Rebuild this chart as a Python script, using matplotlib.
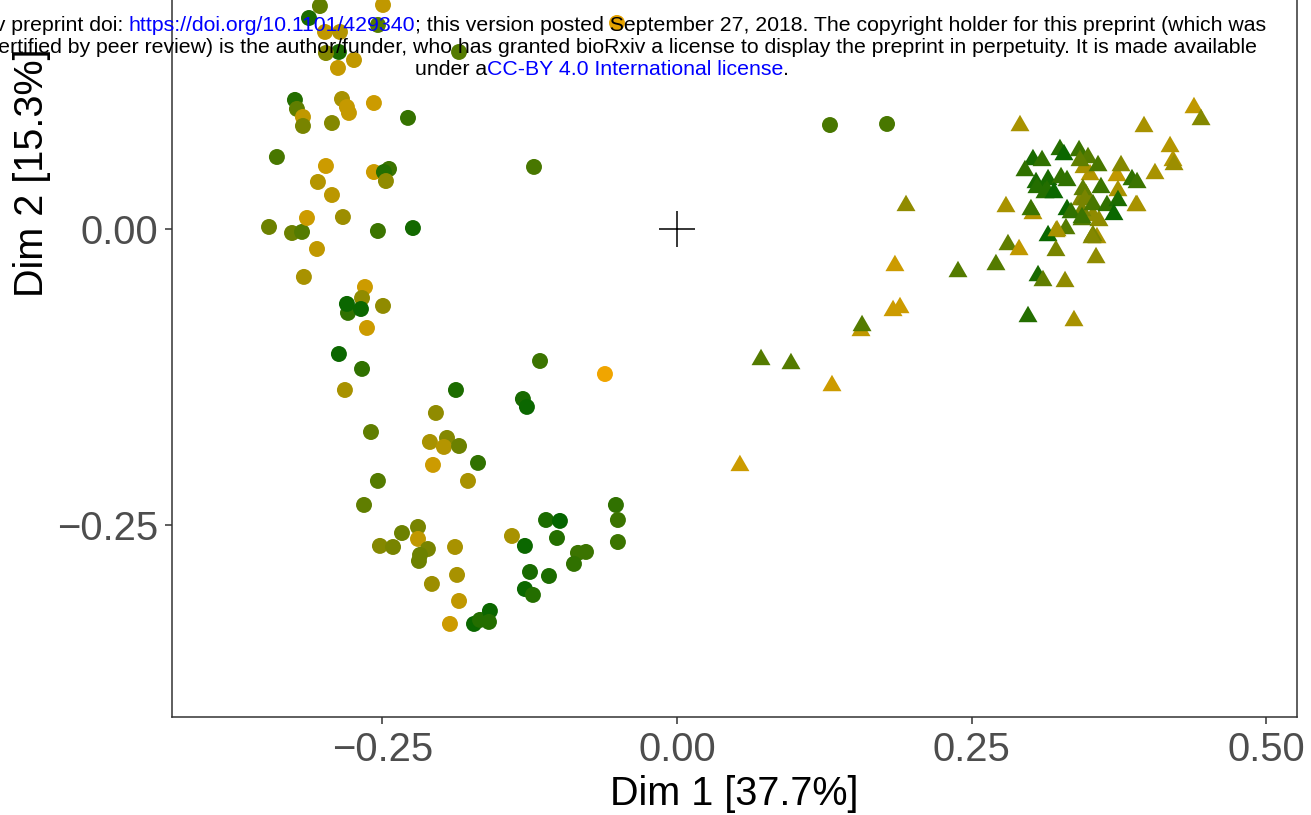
import matplotlib
matplotlib.use('Agg')
import matplotlib.pyplot as plt
from matplotlib.colors import LinearSegmentedColormap

plt.rcParams['font.family'] = ['Liberation Sans', 'DejaVu Sans']

# -- group 1 (circles): Dim 1, Dim 2, colour value (0 = orange, 1 = dark green)
circ_x = [-0.3029, -0.2494, -0.3122, -0.2986, -0.2859, -0.2537, -0.2868, -0.2978, -0.2740, -0.2876,
          -0.1849, -0.0509, -0.3241, -0.3224, -0.3173, -0.3173, -0.2927, -0.2842, -0.2800, -0.2783,
          -0.2571, -0.2282, -0.3394, -0.2978, -0.3046, -0.2927, -0.2571, -0.2443, -0.2486, -0.2469,
          -0.1213, -0.3461, -0.3266, -0.3181, -0.3139, -0.3054, -0.2834, -0.2537, -0.2240, -0.3165,
          -0.2647, -0.2672, -0.2791, -0.2800, -0.2681, -0.2494, -0.2630, -0.2868, -0.2672, -0.2817,
          -0.1875, -0.2596, -0.2045, -0.2096, -0.1951, -0.1977, -0.1849, -0.2070, -0.1162, -0.0611,
          -0.1307, -0.1273, -0.1688, -0.1773, -0.2537, -0.2655, -0.2333, -0.2197, -0.2197, -0.2520,
          -0.2409, -0.2113, -0.2180, -0.2189, -0.1883, -0.1866, -0.2079, -0.1849, -0.1926, -0.1722,
          -0.1671, -0.1587, -0.1595, -0.1400, -0.1290, -0.1111, -0.0993, -0.1018, -0.1247, -0.1086,
          -0.1290, -0.1222, -0.0840, -0.0772, -0.0874, -0.0518, -0.0501, -0.0501, 0.1298, 0.1782]
circ_y = [0.1883, 0.1892, 0.1782, 0.1664, 0.1664, 0.1723, 0.1495, 0.1486, 0.1427, 0.1360,
          0.1495, 0.1740, 0.1090, 0.1014, 0.0946, 0.0870, 0.0895, 0.1098, 0.1030, 0.0980,
          0.1064, 0.0938, 0.0608, 0.0532, 0.0397, 0.0287, 0.0481, 0.0507, 0.0481, 0.0405,
          0.0524, 0.0017, -0.0034, -0.0025, 0.0093, -0.0169, 0.0101, -0.0017, 0.0008, -0.0405,
          -0.0490, -0.0583, -0.0709, -0.0633, -0.0676, -0.0650, -0.0836, -0.1056, -0.1182, -0.1360,
          -0.1360, -0.1715, -0.1554, -0.1799, -0.1765, -0.1841, -0.1833, -0.1993, -0.1115, -0.1225,
          -0.1436, -0.1503, -0.1976, -0.2128, -0.2128, -0.2331, -0.2568, -0.2517, -0.2618, -0.2677,
          -0.2686, -0.2703, -0.2753, -0.2804, -0.2686, -0.2922, -0.2998, -0.3142, -0.3336, -0.3336,
          -0.3302, -0.3226, -0.3319, -0.2593, -0.2677, -0.2458, -0.2466, -0.2610, -0.2897, -0.2931,
          -0.3041, -0.3091, -0.2736, -0.2728, -0.2829, -0.2331, -0.2458, -0.2644, 0.0878, 0.0887]
circ_c = [0.60, 0.20, 0.90, 0.20, 0.25, 0.65, 0.88, 0.45, 0.20, 0.18,
          0.65, 0.05, 0.85, 0.60, 0.20, 0.50, 0.45, 0.30, 0.18, 0.18,
          0.15, 0.78, 0.70, 0.15, 0.25, 0.22, 0.15, 0.75, 0.85, 0.40,
          0.70, 0.55, 0.55, 0.65, 0.15, 0.20, 0.35, 0.75, 0.92, 0.30,
          0.15, 0.40, 0.80, 0.95, 0.95, 0.40, 0.15, 0.95, 0.80, 0.30,
          0.88, 0.60, 0.40, 0.30, 0.45, 0.25, 0.55, 0.15, 0.75, 0.00,
          0.90, 0.95, 0.80, 0.30, 0.65, 0.60, 0.55, 0.50, 0.20, 0.45,
          0.50, 0.50, 0.55, 0.55, 0.30, 0.30, 0.35, 0.20, 0.15, 0.95,
          0.85, 0.95, 0.85, 0.30, 0.95, 0.88, 0.98, 0.85, 0.90, 0.88,
          0.95, 0.85, 0.75, 0.75, 0.80, 0.80, 0.75, 0.75, 0.70, 0.70]

# -- group 2 (triangles)
tri_x = [0.4208, 0.3020, 0.3215, 0.3563, 0.1561, 0.3733, 0.3504, 0.3453, 0.3741, 0.3580,
         0.3529, 0.2910, 0.4386, 0.4446, 0.3962, 0.4183, 0.4217, 0.4055, 0.3903, 0.1943,
         0.2791, 0.3003, 0.1849, 0.2384, 0.2706, 0.2808, 0.2902, 0.3148, 0.3215, 0.3300,
         0.3529, 0.3555, 0.3063, 0.3105, 0.3292, 0.2978, 0.3368, 0.1833, 0.1892, 0.1570,
         0.0713, 0.0967, 0.1315, 0.0534, 0.3470, 0.3427, 0.3436, 0.3020, 0.3097, 0.3249,
         0.3283, 0.3411, 0.3487, 0.3419, 0.3572, 0.3767, 0.2952, 0.3046, 0.3148, 0.3258,
         0.3309, 0.3054, 0.3139, 0.3122, 0.3198, 0.3444, 0.3597, 0.3860, 0.3903, 0.3461,
         0.3529, 0.3648, 0.3741, 0.3707, 0.3894, 0.3436, 0.3309, 0.3343, 0.3436, 0.3224,
         0.3521]
tri_y = [0.0600, 0.0152, 0.0000, -0.0051, -0.0836, 0.0473, 0.0481, 0.0541, 0.0346, 0.0093,
         0.0135, 0.0895, 0.1047, 0.0946, 0.0887, 0.0718, 0.0566, 0.0490, 0.0220, 0.0220,
         0.0211, 0.0186, -0.0287, -0.0338, -0.0279, -0.0110, -0.0152, -0.0034, -0.0160, 0.0025,
         -0.0034, -0.0220, -0.0372, -0.0414, -0.0422, -0.0718, -0.0752, -0.0667, -0.0642, -0.0794,
         -0.1081, -0.1115, -0.1301, -0.1976, 0.0312, 0.0270, 0.0177, 0.0608, 0.0600, 0.0693,
         0.0650, 0.0684, 0.0625, 0.0600, 0.0557, 0.0557, 0.0515, 0.0414, 0.0439, 0.0456,
         0.0431, 0.0372, 0.0346, 0.0329, 0.0329, 0.0355, 0.0372, 0.0439, 0.0414, 0.0270,
         0.0228, 0.0220, 0.0262, 0.0144, 0.0220, 0.0101, 0.0186, 0.0160, 0.0118, 0.0008,
         -0.0051]
tri_c = [0.25, 0.25, 0.30, 0.30, 0.20, 0.20, 0.25, 0.30, 0.30, 0.40,
         0.40, 0.30, 0.20, 0.45, 0.30, 0.25, 0.35, 0.30, 0.30, 0.40,
         0.30, 0.75, 0.15, 0.65, 0.65, 0.60, 0.20, 0.95, 0.50, 0.65,
         0.50, 0.40, 0.90, 0.60, 0.40, 0.85, 0.30, 0.15, 0.15, 0.65,
         0.65, 0.65, 0.15, 0.15, 0.50, 0.45, 0.50, 0.90, 0.80, 0.85,
         0.95, 0.75, 0.65, 0.60, 0.70, 0.45, 0.80, 0.90, 0.90, 0.80,
         0.80, 0.85, 0.85, 0.85, 0.95, 0.60, 0.75, 0.80, 0.75, 0.50,
         0.70, 0.80, 0.88, 0.95, 0.30, 0.65, 0.95, 0.80, 0.75, 0.30,
         0.45]

xticks = [-0.25, 0.00, 0.25, 0.50]
xticklabels = ['\u22120.25', '0.00', '0.25', '0.50']
yticks = [-0.25, 0.00]
yticklabels = ['\u22120.25', '0.00']
xlabel = 'Dim 1 [37.7%]'
ylabel = 'Dim 2 [15.3%]'

# -- figure
W, H = 1311, 815
fig = plt.figure(figsize=(W / 100, H / 100), dpi=100)
fig.patch.set_facecolor('white')
ax = fig.add_axes([172 / W, 98 / H, 1125 / W, 717 / H])

cmap = LinearSegmentedColormap.from_list('orange_green', ['#F0A500', '#006400'])
ax.scatter(circ_x, circ_y, c=circ_c, cmap=cmap, vmin=0, vmax=1, s=132, marker='o', linewidths=0)
tri_marker = [(-1, -0.866), (1, -0.866), (0, 0.866), (-1, -0.866)]
ax.scatter(tri_x, tri_y, c=tri_c, cmap=cmap, vmin=0, vmax=1, s=187, marker=tri_marker, linewidths=0)
ax.plot(0, 0, marker='+', ms=26, mew=1.1, color='black')

ax.set_xlim(-0.4284, 0.526)
ax.set_ylim(-0.4122, 0.1934)
ax.spines['top'].set_visible(False)
for s in ['left', 'bottom', 'right']:
    ax.spines[s].set_color('#333333')
    ax.spines[s].set_linewidth(1.1)

ax.set_xticks(xticks)
ax.set_xticklabels(xticklabels)
ax.set_yticks(yticks)
ax.set_yticklabels(yticklabels)
ax.tick_params(length=5, width=1.1, color='#333333', labelcolor='#4D4D4D', labelsize=28.8, pad=5)

ax.set_xlabel(xlabel, fontsize=28.5, color='black', va='center')
ax.xaxis.set_label_coords(0.5, -0.108)
ax.set_ylabel(ylabel, fontsize=28.5, color='black', va='center')
ax.yaxis.set_label_coords(-0.124, 0.759)

# -- preprint header overlay
fsize = 15.3
renderer = fig.canvas.get_renderer()


def text_width(s):
    a = fig.text(0, 0, '|' + s + '|', fontsize=fsize)
    b = fig.text(0, 0, '||', fontsize=fsize)
    w = a.get_window_extent(renderer).width - b.get_window_extent(renderer).width
    a.remove()
    b.remove()
    return w


def header_line(pieces, baseline, center=603):
    widths = [text_width(s) for s, c in pieces]
    x = center - sum(widths) / 2
    for (s, c), w in zip(pieces, widths):
        fig.text(x / W, 1 - baseline / H, s, color=c, fontsize=fsize, ha='left', va='baseline')
        x += w


header_line([('bioRxiv preprint doi: ', 'black'),
             ('https://doi.org/10.1101/429340', 'blue'),
             ('; this version posted September 27, 2018. The copyright holder for this preprint (which was', 'black')], 31, 601)
header_line([('not certified by peer review) is the author/funder, who has granted bioRxiv a license to display the preprint in perpetuity. It is made available', 'black')], 53, 605)
header_line([('under a', 'black'),
             ('CC-BY 4.0 International license', 'blue'),
             ('.', 'black')], 75, 602)

plt.savefig('out.png', dpi=100)
